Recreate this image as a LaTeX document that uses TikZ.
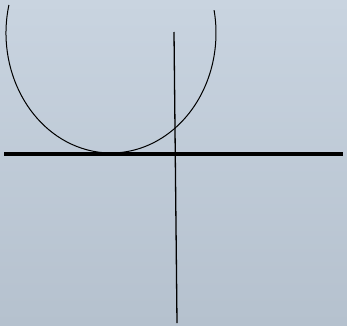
\documentclass[tikz,border=0pt]{standalone}
\definecolor{bgtop}{RGB}{201,212,224}
\definecolor{bgbot}{RGB}{181,193,206}
\begin{document}
\begin{tikzpicture}[x=1pt,y=1pt,
  thin line/.style={draw=black,line width=1pt},
  thick line/.style={draw=black,line width=4pt}]
\shade[top color=bgtop,bottom color=bgbot] (0,0) rectangle (347,325);
\useasboundingbox (0,0) rectangle (347,325);
\coordinate (c) at (111,292);
\draw[thin line] (c) ++(166.5:105 and 120) arc[start angle=166.5,end angle=371,x radius=105,y radius=120];
\coordinate (hl) at (4,171);
\coordinate (hr) at (343,171);
\draw[thick line] (hl) -- (hr);
\coordinate (vt) at (174,293);
\coordinate (vb) at (177,2);
\draw[draw=black,line width=1.3pt] (vt) -- (vb);
\end{tikzpicture}
\end{document}
